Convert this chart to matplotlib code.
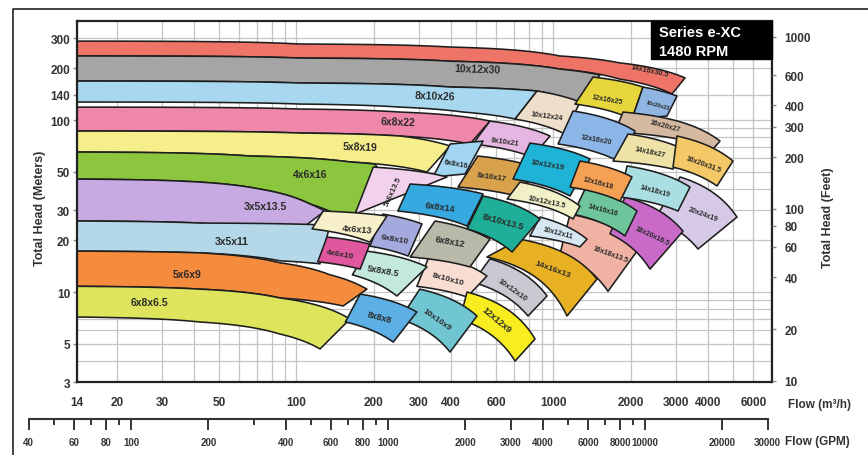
import numpy as np
import matplotlib
matplotlib.use('Agg')
import matplotlib.pyplot as plt
from matplotlib.patches import Polygon, Rectangle
from matplotlib.lines import Line2D

plt.rcParams['font.family'] = ['Liberation Sans', 'DejaVu Sans']

# ---------------- data ----------------
FLOW_TICKS = [14, 20, 30, 50, 100, 200, 300, 400, 600, 1000, 2000, 3000, 4000, 6000]
HEAD_TICKS_M = [3, 5, 10, 20, 30, 50, 100, 140, 200, 300]
HEAD_TICKS_FT = [10, 20, 40, 60, 80, 100, 200, 300, 400, 600, 1000]
GPM_TICKS = [40, 60, 80, 100, 200, 400, 600, 800, 1000, 2000, 3000, 4000, 6000, 8000, 10000, 20000, 30000]
FLOW_LIM = [14, 7085]
HEAD_LIM = [3, 377]
M_TO_FT = 3.2808
M3H_TO_GPM = 4.4029

# large bands: top edge and bottom edge (flow m3/h, head m), left to right
band_names = ["14x16x30.5", "10x12x30", "8x10x26", "6x8x22", "5x8x19", "4x6x16",
              "3x5x13.5", "3x5x11", "5x6x9", "6x8x6.5"]
band_colors = ["#ee7467", "#a5a5a5", "#a8d8ef", "#ee87a9", "#f6ee8b", "#8cc63f",
               "#c8aae2", "#b5d8e9", "#f58b3d", "#dee55d"]
band_top = [
    [(14, 288), (103, 277), (396, 266), (1060, 236), (1815, 215), (3251, 176)],
    [(14, 236), (103, 229.5), (396, 220), (1060, 198), (1518, 183)],
    [(14, 168.7), (103, 164.3), (396, 155.7), (863, 147.6)],
    [(14, 119), (103, 116), (253, 111.4), (566, 98.7)],
    [(14, 86.4), (103, 84.1), (253, 80.8), (396, 70.7)],
    [(14, 65.2), (66, 61.8), (161.6, 57.1), (202, 55.5), (221, 44.2)],
    [(14, 45.4), (42.1, 43.6), (72.1, 39.7), (113, 32.5), (129, 29.6)],
    [(14, 25.9), (42.1, 25.2), (135, 24.5)],
    [(14, 17.3), (42.1, 16.9), (86.3, 14.8), (135, 12.6), (188, 10.4)],
    [(14, 10.8), (42.1, 10.4), (86.3, 9.24), (161.6, 6.97)],
]
band_bot = [
    [(14, 236), (103, 229.5), (396, 220), (1060, 198), (1815, 173), (2893, 142)],
    [(14, 168.7), (103, 164.3), (396, 155.7), (863, 147.6), (1235, 127)],
    [(14, 127.4), (103, 124), (253, 119), (445, 111.4), (709, 101.4)],
    [(14, 86.4), (103, 84.1), (253, 80.8), (473, 72.6)],
    [(14, 65.2), (66, 61.8), (161.6, 57.1), (322, 49.9)],
    [(14, 45.4), (42.1, 43.6), (72.1, 39.7), (113, 32.5), (157, 25.9)],
    [(14, 25.9), (42.1, 25.2), (66, 22.6), (90.3, 19.8)],
    [(14, 17.3), (42.1, 16.9), (86.3, 15.2), (123.5, 14.6)],
    [(14, 10.8), (42.1, 10.4), (86.3, 9.24), (152, 8.3)],
    [(14, 7.16), (42.1, 6.7), (86.3, 5.7), (123.5, 4.67)],
]
band_label_q = [2375, 508, 346, 248, 177, 113, 75.4, 56.2, 37.5, 26.9]
band_label_h = [195.5, 198, 138, 97.4, 69.7, 48.6, 31.6, 19.8, 12.7, 8.75]
band_label_rot = [-12, -2, -2, -2, -2, 0, 0, 0, 0, 0]
band_label_size = [5.2, 7.5, 7.5, 7.5, 7.5, 7.5, 7.5, 7.5, 7.5, 7.5]

# smaller patches: corners top-left, top-right, bottom-right, bottom-left (flow, head)
patch_names = ["10x12x24", "12x16x25", "16x20x23", "16x20x27", "12x16x20", "14x18x27",
               "16x20x31.5", "8x10x21", "6x8x16", "8x10x17", "10x12x19", "20x24x19",
               "16x18x13.5", "18x20x16.5", "14x18x19", "14x16x16", "12x16x18", "10x12x13.5",
               "10x12x11", "14x16x13", "10x12x10", "8x10x10", "12x12x9", "10x10x9", "8x8x8",
               "5x8x8.5", "6x8x12", "8x10x13.5", "5x6x13.5", "6x8x14", "6x8x10", "4x6x13", "4x6x10"]
patch_colors = ["#eedfca", "#e6d63c", "#8fb5e2", "#d5b8a0", "#8cb5e8", "#efe2a7",
                "#f5c867", "#e6b6e2", "#a2d5f1", "#d8a14c", "#20b3d8", "#d6c9e6",
                "#f0b2a3", "#c96ac9", "#a9dfe2", "#6ec59b", "#f5a154", "#f1f0c7",
                "#d6e7f2", "#e8b123", "#c9c9d2", "#f9ddd2", "#f8ee1f", "#70c5d2", "#5cb0e6",
                "#c3e8de", "#b9b9aa", "#1fae98", "#f1d1ec", "#37a9e1", "#a4aade", "#f8f0c9", "#e0579e"]
tl_q = [863, 1426, 2230, 1865, 1192, 1951, 3025, 566, 396, 508, 810, 3108,
        1160, 1898, 1933, 1327, 1268, 741, 887, 741, 566, 331, 461, 302, 177,
        188, 346, 532, 199, 277, 217, 127, 131.5]
tl_h = [147.6, 178, 155.7, 111.4, 113, 83, 80.8, 98.7, 72.6, 61.8, 73.5, 46.7,
        28.4, 35.7, 54.1, 39.7, 57.8, 43.6, 27.3, 20.3, 15.6, 16.6, 10.0, 10.4, 9.74,
        17.3, 25.9, 36.2, 53.3, 42.5, 28.4, 29.6, 20.9]
tr_q = [1268, 2230, 3025, 4447, 2077, 3309, 4995, 970, 532, 848, 1388, 5178,
        2171, 3193, 3399, 2114, 2021, 1268, 1351, 1477, 944, 551, 848, 504, 294,
        322, 566, 887, 385, 532, 308, 225, 193]
tr_h = [127.4, 155.7, 138, 75.5, 86.4, 66.1, 57.8, 80.8, 75.5, 53.3, 59.4, 27.3,
        18.3, 22.6, 40.8, 29.6, 46.7, 31.6, 20.3, 11.9, 9.49, 12.4, 5.34, 7.26, 7.66,
        14.0, 20.3, 26.6, 46.7, 37.2, 24.9, 27.7, 19.0]
br_q = [1109, 2021, 2766, 4176, 1783, 2919, 4328, 825, 453, 741, 1160, 3651,
        1630, 2375, 3052, 1898, 1815, 1192, 1268, 1129, 796, 461, 709, 396, 238,
        246, 473, 690, 265, 461, 272, 193, 177]
br_h = [83, 101.4, 105.6, 67.9, 57.8, 51.9, 41.4, 61, 48.6, 35.7, 36.2, 17.8,
        10.1, 13.6, 29.6, 21.2, 33.8, 26.6, 18.3, 7.26, 7.26, 9.36, 3.97, 4.48, 5.12,
        9.49, 14.0, 17.1, 37.2, 24.2, 16.2, 19.5, 13.6]
bl_q = [709, 1213, 2021, 1736, 1042, 1705, 2919, 486, 340, 425, 696, 2484,
        1060, 1660, 1815, 1192, 1160, 660, 810, 551, 486, 294, 433, 253, 155,
        165, 277, 461, 169, 248, 193, 115, 121]
bl_h = [101.4, 124, 101.4, 85.2, 72.6, 57.8, 53.3, 72.6, 46.7, 40.8, 45.4, 26.6,
        16.6, 21.8, 35.7, 28.4, 40.8, 34.8, 21.2, 16.0, 11.4, 10.8, 6.97, 6.97, 6.7,
        12.6, 16.0, 23.3, 28.4, 29.6, 18.5, 23.3, 15.0]
label_q = [944, 1616, 2552, 2716, 1464, 2375, 3818, 648, 418, 577, 952, 3818,
           1660, 2418, 2484, 1559, 1491, 944, 1042, 995, 690, 389, 603, 352, 211,
           217, 396, 637, 238, 362, 242, 172, 148]
label_h = [105.6, 133, 122.4, 92.4, 77.6, 65.2, 55.5, 75.5, 55.5, 46.7, 55.5, 28.4,
           16.6, 21.2, 38.7, 30, 43.6, 33.4, 22.3, 13.6, 10.4, 11.9, 6.97, 6.97, 7.16,
           13.3, 19.8, 25.9, 38.7, 31.6, 20.3, 23.3, 16.6]
label_rot = [-8, -10, -15, -15, -10, -12, -20, -8, -10, -8, -10, -20,
             -20, -25, -15, -15, -15, -12, -15, -20, -35, -15, -40, -35, -15,
             -10, -10, -15, 65, -8, -10, -5, -10]
label_size = [5.2, 5.0, 4.0, 5.0, 5.0, 5.0, 5.0, 5.2, 5.2, 5.5, 5.5, 5.0,
              5.0, 5.0, 5.0, 5.0, 5.0, 5.2, 5.0, 6.0, 5.5, 6.0, 6.5, 6.0, 6.5,
              6.5, 6.5, 6.5, 5.5, 6.5, 6.0, 6.5, 6.0]

# ---------------- helpers ----------------
def edge(points, n=40):
    out = []
    for (q1, h1), (q2, h2) in zip(points[:-1], points[1:]):
        qs = np.logspace(np.log10(q1), np.log10(q2), n)
        if q2 > q1 and h1 > h2:
            b = (h1 - h2) / (q2 ** 2 - q1 ** 2)
            a = h1 + b * q1 ** 2
            hs = a - b * qs ** 2
        else:
            hs = np.logspace(np.log10(h1), np.log10(h2), n)
        out.extend(zip(qs, hs))
    return out


def draw_shape(ax, top, bot, color, z):
    pts = edge(top) + edge(bot)[::-1]
    poly = Polygon(pts, closed=True, facecolor=color, edgecolor='#1e1e1e',
                   linewidth=1.15, joinstyle='round', zorder=z)
    ax.add_patch(poly)


# ---------------- figure ----------------
W, H = 868, 456
fig = plt.figure(figsize=(W / 100, H / 100), dpi=100)
fig.patch.set_facecolor('white')

L, R, T, B = 77, 772, 22, 383
ax = fig.add_axes([L / W, 1 - B / H, (R - L) / W, (B - T) / H])
ax.set_xscale('log')
ax.set_yscale('log')
ax.set_xlim(*FLOW_LIM)
ax.set_ylim(*HEAD_LIM)
ax.grid(which='both', color='#c4c4c4', linewidth=0.9, zorder=0)
ax.set_axisbelow(True)
for s in ax.spines.values():
    s.set_linewidth(1.6)
    s.set_color('#222222')
    s.set_zorder(50)

TICK_FS = 8.5
ax.set_xticks(FLOW_TICKS)
ax.set_xticklabels([str(v) for v in FLOW_TICKS])
ax.set_yticks(HEAD_TICKS_M)
ax.set_yticklabels([str(v) for v in HEAD_TICKS_M])
ax.xaxis.set_minor_formatter(plt.NullFormatter())
ax.yaxis.set_minor_formatter(plt.NullFormatter())
ax.tick_params(axis='x', which='both', length=0, pad=10, labelsize=TICK_FS, labelcolor='#333333')
ax.tick_params(axis='y', which='major', length=3, width=1, direction='out', pad=2,
               labelsize=TICK_FS, labelcolor='#333333', color='#888888')
ax.tick_params(axis='y', which='minor', length=0)
for lab in ax.get_xticklabels() + ax.get_yticklabels():
    lab.set_fontweight('bold')

ax2 = ax.twinx()
ax2.set_yscale('log')
ax2.set_ylim(HEAD_LIM[0] * M_TO_FT, HEAD_LIM[1] * M_TO_FT)
ax2.set_yticks(HEAD_TICKS_FT)
ax2.set_yticklabels([str(v) for v in HEAD_TICKS_FT])
ax2.yaxis.set_minor_formatter(plt.NullFormatter())
ax2.tick_params(axis='y', which='major', length=3, width=1, direction='out', pad=6,
                labelsize=TICK_FS, labelcolor='#333333', color='#888888')
ax2.tick_params(axis='y', which='minor', length=0)
for lab in ax2.get_yticklabels():
    lab.set_fontweight('bold')
for s in ax2.spines.values():
    s.set_visible(False)

# bands
for i in range(len(band_names)):
    draw_shape(ax, band_top[i], band_bot[i], band_colors[i], 2)
    ax.text(band_label_q[i], band_label_h[i], band_names[i], ha='center', va='center',
            fontsize=band_label_size[i], fontweight='bold', color='#2a2a2a',
            rotation=band_label_rot[i], zorder=20)

# patches
for i in range(len(patch_names)):
    top = [(tl_q[i], tl_h[i]), (tr_q[i], tr_h[i])]
    bot = [(bl_q[i], bl_h[i]), (br_q[i], br_h[i])]
    draw_shape(ax, top, bot, patch_colors[i], 3 + i * 0.01)
    ax.text(label_q[i], label_h[i], patch_names[i], ha='center', va='center',
            fontsize=label_size[i], fontweight='bold', color='#2a2a2a',
            rotation=label_rot[i], zorder=20)

# title box
fig.add_artist(Rectangle((651 / W, 1 - 60 / H), (772 - 651) / W, (60 - 22) / H,
                         transform=fig.transFigure, facecolor='black', edgecolor='black',
                         zorder=60))
fig.text(659 / W, 1 - 33 / H, "Series e-XC", color='white', fontsize=10.5,
         fontweight='bold', va='center', ha='left', zorder=61)
fig.text(659 / W, 1 - 52 / H, "1480 RPM", color='white', fontsize=10.5,
         fontweight='bold', va='center', ha='left', zorder=61)

# axis titles
fig.text(40 / W, 1 - 208 / H, "Total Head (Meters)", rotation=90, ha='center', va='center',
         fontsize=9, fontweight='bold', color='#333333')
fig.text(828 / W, 1 - 218 / H, "Total Head (Feet)", rotation=90, ha='center', va='center',
         fontsize=9, fontweight='bold', color='#333333')
fig.text(788 / W, 1 - 405 / H, "Flow (m\u00b3/h)", ha='left', va='center',
         fontsize=8.5, fontweight='bold', color='#333333')
fig.text(785 / W, 1 - 442 / H, "Flow (GPM)", ha='left', va='center',
         fontsize=8.5, fontweight='bold', color='#333333')

# GPM axis aligned with the flow scale
lq0, lq1 = np.log10(FLOW_LIM[0]), np.log10(FLOW_LIM[1])
def flow_to_fig(q):
    return (L + (R - L) * (np.log10(q) - lq0) / (lq1 - lq0)) / W
g0 = flow_to_fig(GPM_TICKS[0] / M3H_TO_GPM)
g1 = flow_to_fig(GPM_TICKS[-1] / M3H_TO_GPM)
axg = fig.add_axes([g0, 1 - 420 / H, g1 - g0, 0.0001])
axg.set_xscale('log')
axg.set_xlim(GPM_TICKS[0], GPM_TICKS[-1])
axg.set_yticks([])
for k in ['left', 'right', 'top']:
    axg.spines[k].set_visible(False)
axg.spines['bottom'].set_linewidth(1.5)
axg.spines['bottom'].set_color('#333333')
axg.set_xticks(GPM_TICKS)
axg.set_xticklabels([str(v) for v in GPM_TICKS])
minor = [m * 10 ** e for e in range(1, 5) for m in range(1, 10)]
minor = [v for v in minor if GPM_TICKS[0] <= v <= GPM_TICKS[-1] and v not in GPM_TICKS]
axg.set_xticks(minor, minor=True)
axg.xaxis.set_minor_formatter(plt.NullFormatter())
axg.tick_params(axis='x', which='major', length=8, width=1.4, direction='out', pad=5,
                labelsize=7, labelcolor='#333333', color='#333333')
axg.tick_params(axis='x', which='minor', length=4, width=1.4, direction='out', color='#333333')
for lab in axg.get_xticklabels():
    lab.set_fontweight('bold')
axg.patch.set_visible(False)

# outer frame
fig.add_artist(Line2D([13 / W, 13 / W, 1.0], [0.0, 1 - 10 / H, 1 - 10 / H],
                      transform=fig.transFigure, color='#222222', linewidth=1.2))

fig.savefig('out.png', dpi=100)
